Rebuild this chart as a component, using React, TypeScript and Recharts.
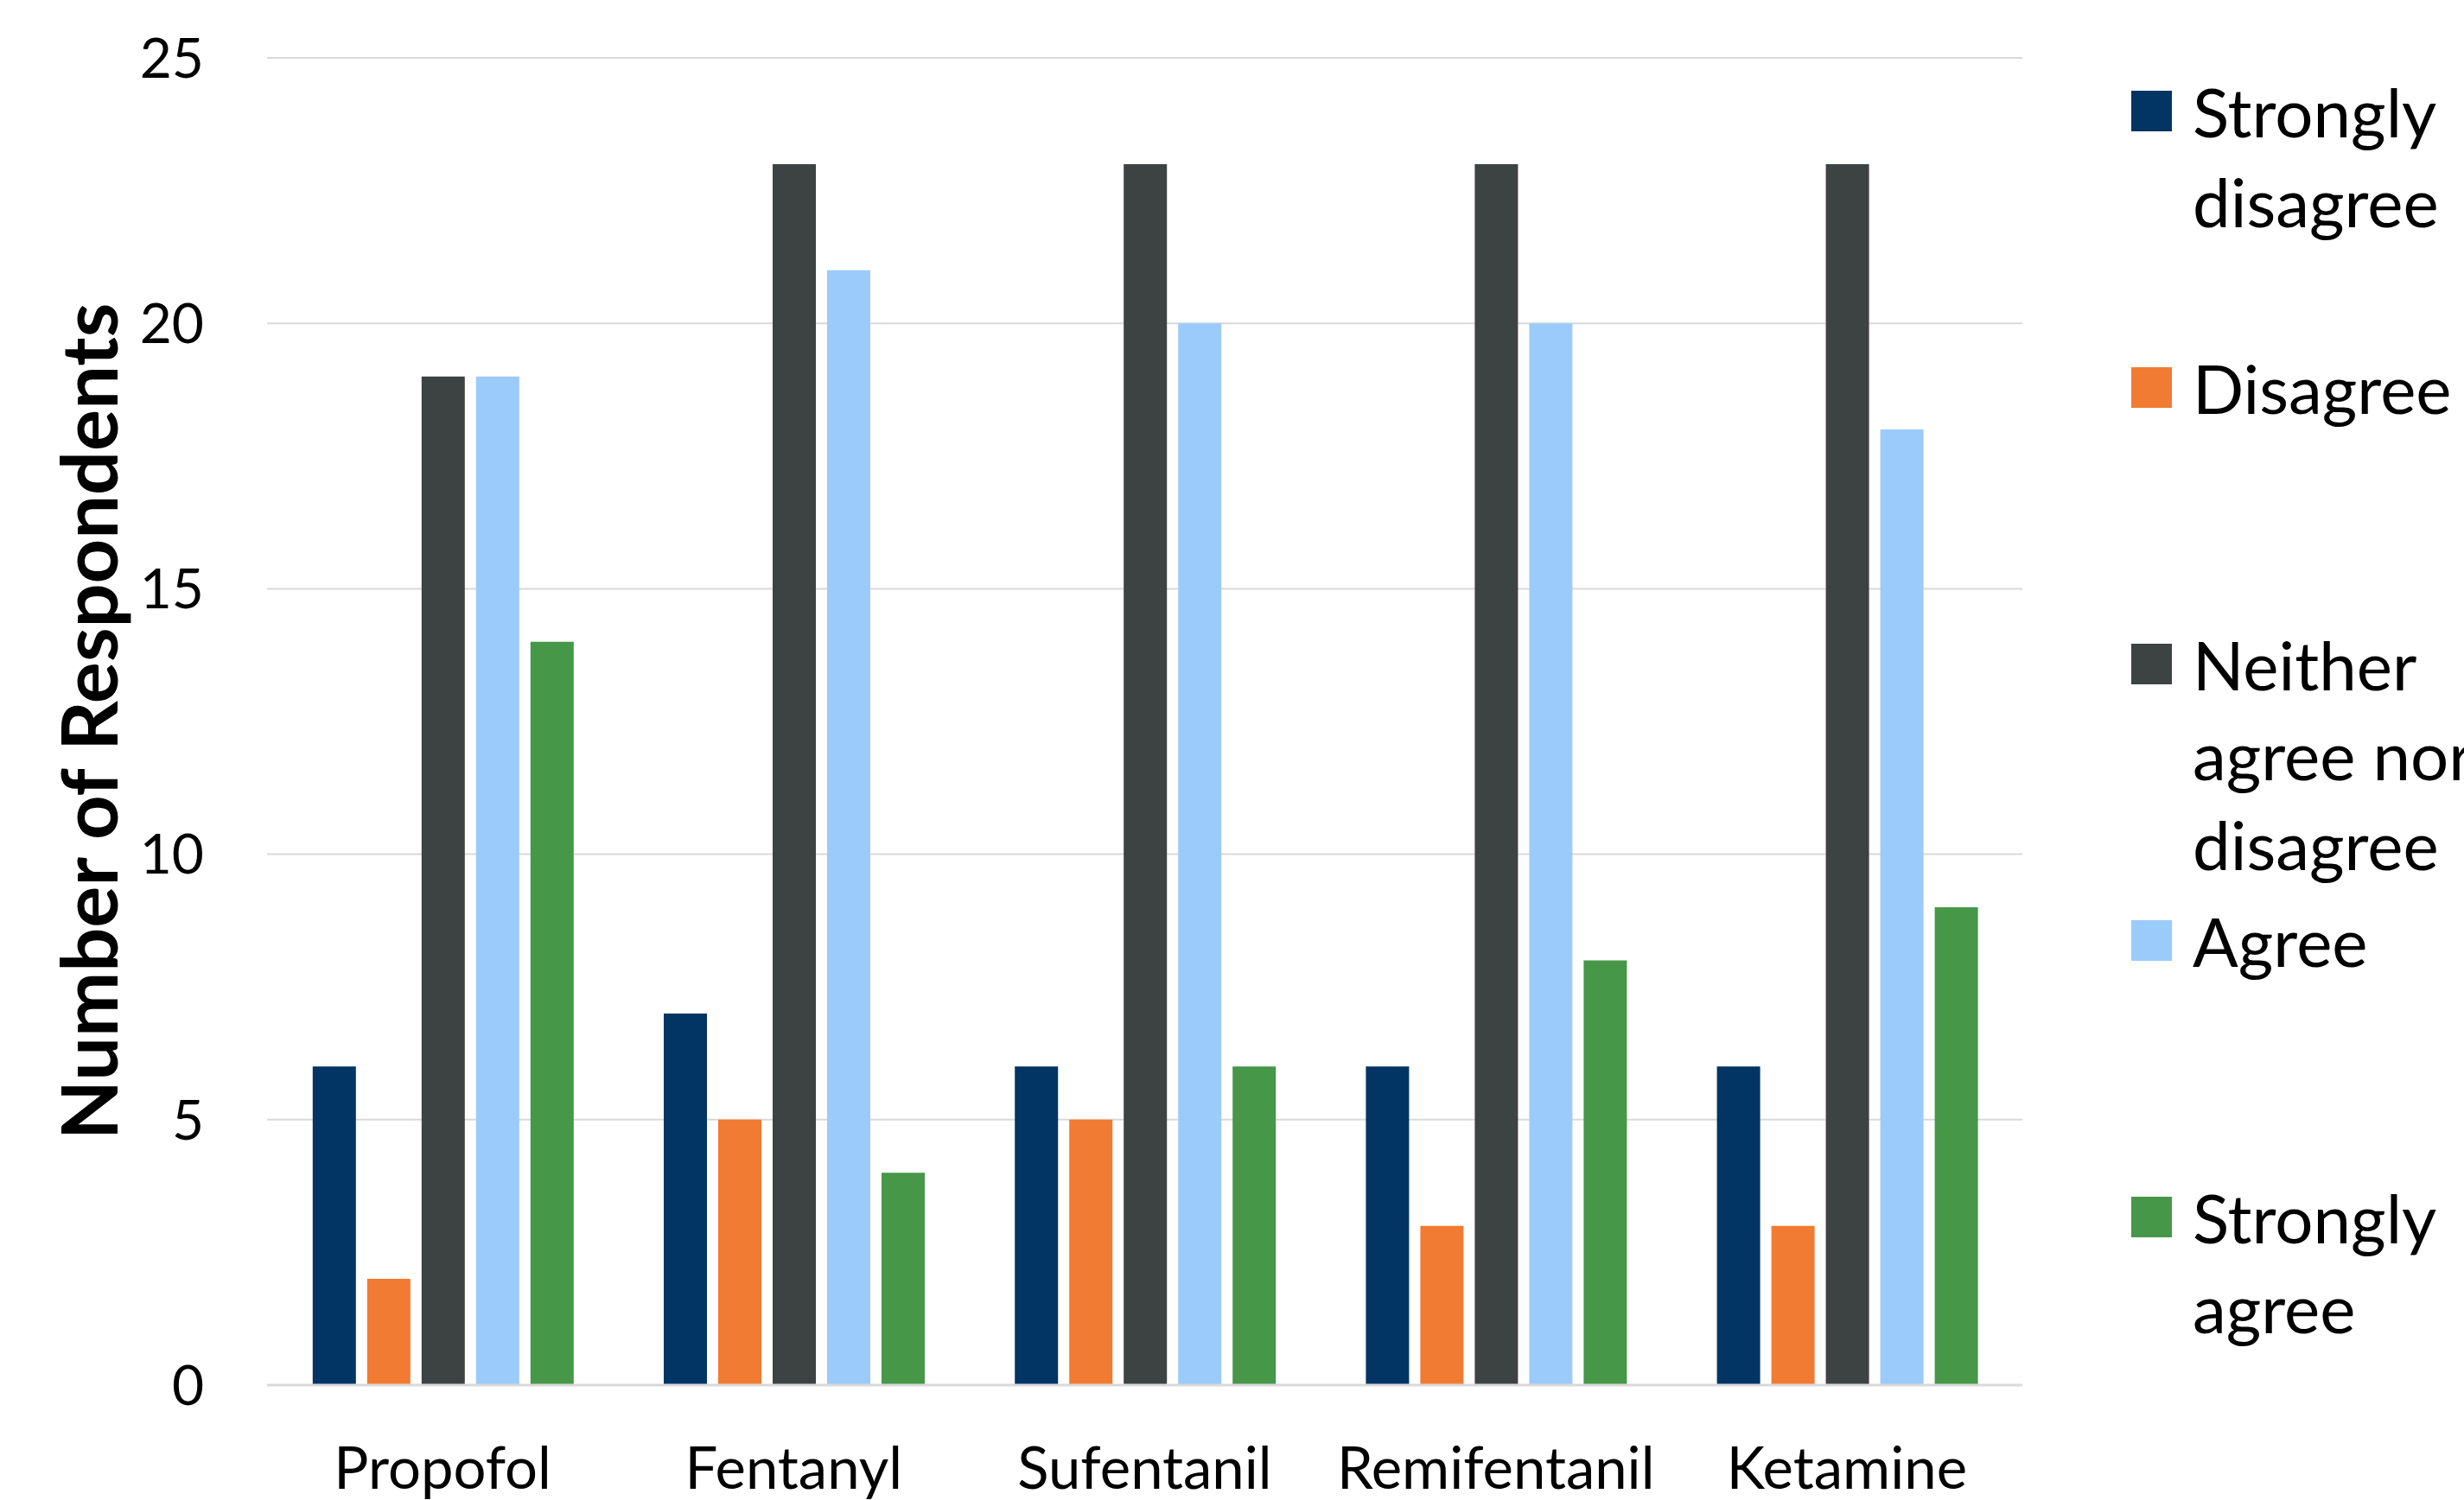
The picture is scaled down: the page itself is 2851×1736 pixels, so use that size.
import React from 'react';
import { BarChart, Bar, XAxis, YAxis, CartesianGrid, Legend } from 'recharts';

const categories = ['Propofol', 'Fentanyl', 'Sufentanil', 'Remifentanil', 'Ketamine'];
const stronglyDisagree = [6, 7, 6, 6, 6];
const disagree = [2, 5, 5, 3, 3];
const neither = [19, 23, 23, 23, 23];
const agree = [19, 21, 20, 20, 18];
const stronglyAgree = [14, 4, 6, 8, 9];
const yTicks = [0, 5, 10, 15, 20, 25];

const series = [
  { key: 'sd', name: 'Strongly disagree', color: '#033564', values: stronglyDisagree },
  { key: 'd', name: 'Disagree', color: '#F17B32', values: disagree },
  { key: 'n', name: 'Neither agree nor disagree', color: '#3D4242', values: neither },
  { key: 'a', name: 'Agree', color: '#9BCBFA', values: agree },
  { key: 'sa', name: 'Strongly agree', color: '#469748', values: stronglyAgree },
];

const data = categories.map((name, i) => {
  const row: Record<string, string | number> = { name };
  series.forEach((s) => {
    row[s.key] = s.values[i];
  });
  return row;
});

const FONT = 'Lato, "Open Sans", sans-serif';

// legend keeps the series order (recharts sorts its payload by name otherwise)
const renderLegend = () => (
  <div style={{ fontFamily: FONT, fontSize: 78, color: '#000' }}>
    {series.map((s) => (
      <div key={s.key} style={{ display: 'flex', alignItems: 'flex-start', height: 320 }}>
        <div style={{ width: 47, height: 47, background: s.color, marginTop: 28, flexShrink: 0 }} />
        <div style={{ marginLeft: 24, width: 430, flexShrink: 0, lineHeight: '104px' }}>{s.name}</div>
      </div>
    ))}
  </div>
);

const App: React.FC = () => {
  return (
    <div style={{ position: 'fixed', left: 0, top: 0, width: 2851, height: 1736, overflow: 'hidden', background: '#fff' }}>
      <BarChart
        width={2851}
        height={1736}
        data={data}
        margin={{ top: 67, right: 126, left: 0, bottom: 0 }}
        barCategoryGap="13%"
        barGap={13}
      >
        <CartesianGrid vertical={false} stroke="#D9D9D9" strokeWidth={2} />
        <XAxis
          dataKey="name"
          height={133}
          tickLine={false}
          tickSize={0}
          tickMargin={72}
          axisLine={{ stroke: '#D9D9D9', strokeWidth: 3 }}
          tick={{ fontSize: 67, fill: '#000', fontFamily: FONT }}
        />
        <YAxis
          width={309}
          domain={[0, 25]}
          ticks={yTicks}
          axisLine={false}
          tickLine={false}
          tickSize={0}
          tickMargin={73}
          tick={{ fontSize: 64, fill: '#000', fontFamily: FONT }}
          label={{
            value: 'Number of Respondents',
            angle: -90,
            position: 'insideLeft',
            offset: 104,
            style: { fontSize: 90, fontWeight: 700, fill: '#000', fontFamily: FONT, textAnchor: 'middle' },
          }}
        />
        <Legend
          layout="vertical"
          align="right"
          verticalAlign="top"
          content={renderLegend}
          wrapperStyle={{ position: 'absolute', left: 2466, top: 77, width: 385 }}
        />
        {series.map((s) => (
          <Bar key={s.key} dataKey={s.key} name={s.name} fill={s.color} isAnimationActive={false} />
        ))}
      </BarChart>
    </div>
  );
};

export default App;
